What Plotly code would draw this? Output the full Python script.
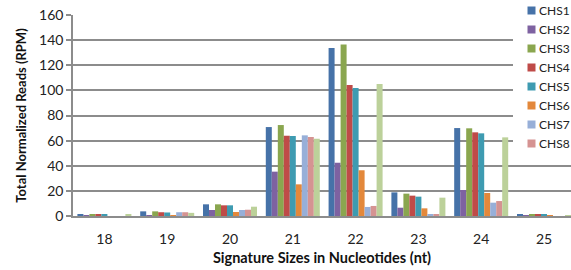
import plotly.graph_objects as go

categories = ["18", "19", "20", "21", "22", "23", "24", "25"]
series_names = ["CHS1", "CHS2", "CHS3", "CHS4", "CHS5", "CHS6", "CHS7", "CHS8", "CHS9"]

chs1 = [1.5, 3.7, 9.3, 70.8, 133.7, 18.8, 70.0, 1.5]
chs2 = [0.3, 0.8, 4.8, 35.3, 42.4, 6.6, 20.7, 0.2]
chs3 = [1.5, 3.7, 9.3, 72.4, 136.6, 17.8, 69.8, 1.5]
chs4 = [1.5, 3.0, 8.5, 63.9, 104.3, 16.2, 66.6, 1.5]
chs5 = [1.5, 2.8, 8.5, 63.7, 101.9, 15.4, 65.8, 1.5]
chs6 = [0.0, 0.8, 3.2, 25.2, 36.4, 6.1, 18.3, 0.2]
chs7 = [0.0, 3.0, 4.8, 64.2, 7.2, 1.6, 10.6, 0.0]
chs8 = [0.0, 3.0, 5.0, 62.9, 8.0, 1.6, 11.9, 0.0]
chs9 = [1.0, 2.5, 7.4, 61.5, 105.0, 14.6, 62.6, 0.8]

values = [chs1, chs2, chs3, chs4, chs5, chs6, chs7, chs8, chs9]
colors = ["#4672A8", "#7E62A1", "#8AA64F", "#BF4B48", "#3E9BB1",
          "#E3883B", "#97AFD8", "#D59392", "#BCD19A"]

y_ticks = [0, 20, 40, 60, 80, 100, 120, 140, 160]
legend_names = series_names[:8]   # the reference legend shows CHS1..CHS8

FONT = "Lato, Calibri, Carlito, sans-serif"
W, H = 571, 270
ML, MT, MB = 73, 15, 54
PW = W - ML
PH = H - MT - MB


def px_to_paper(px, py):
    return (px - ML) / PW, (H - MB - py) / PH


fig = go.Figure()
for name, vals, col in zip(series_names, values, colors):
    fig.add_trace(go.Bar(
        x=categories, y=vals, name=name,
        marker=dict(color=col, line=dict(width=0)),
        showlegend=False,
    ))

shapes = []
annotations = []
# legend background (covers gridlines like the reference legend box)
x0, y0 = px_to_paper(513, 152)
x1, y1 = px_to_paper(W, 0)
shapes.append(dict(type="rect", xref="paper", yref="paper",
                   x0=x0, x1=x1, y0=y0, y1=y1,
                   fillcolor="white", line=dict(width=0), layer="above"))
for i, name in enumerate(legend_names):
    cy = 10.5 + 19 * i
    bx0, by0 = px_to_paper(527.5, cy + 4)
    bx1, by1 = px_to_paper(535.5, cy - 4)
    shapes.append(dict(type="rect", xref="paper", yref="paper",
                       x0=bx0, x1=bx1, y0=by0, y1=by1,
                       fillcolor=colors[i], line=dict(width=0), layer="above"))
    tx, ty = px_to_paper(537, cy)
    annotations.append(dict(text=name, xref="paper", yref="paper",
                            x=tx, y=ty, xanchor="left", yanchor="middle",
                            showarrow=False,
                            font=dict(family=FONT, size=12, color="#222222")))

fig.update_layout(
    width=W, height=H,
    margin=dict(l=ML, r=0, t=MT, b=MB, autoexpand=False),
    paper_bgcolor="white", plot_bgcolor="white",
    barmode="group", bargap=0.14, bargroupgap=0,
    showlegend=False,
    font=dict(family=FONT, size=13, color="#222222"),
    shapes=shapes, annotations=annotations,
    xaxis=dict(
        type="category", range=[-0.5, 7.43], automargin=False,
        showline=True, linecolor="#8C8C8C", linewidth=1.5,
        ticks="", showgrid=False, ticklabelstandoff=9,
        tickfont=dict(family=FONT, size=14, color="#222222"),
        title=dict(text="<b>Signature Sizes in Nucleotides (nt)</b>",
                   font=dict(family=FONT, size=14.5, color="#111111"),
                   standoff=7),
    ),
    yaxis=dict(
        range=[0, 160], tickvals=y_ticks, automargin=False,
        showline=True, linecolor="#8C8C8C", linewidth=1.5,
        ticks="outside", ticklen=5, tickcolor="#8C8C8C", tickwidth=1.5,
        showgrid=True, gridcolor="#8C8C8C", gridwidth=1.5,
        zeroline=False,
        tickfont=dict(family=FONT, size=14, color="#222222"),
        title=dict(text="<b>Total Normalized Reads (RPM)</b>",
                   font=dict(family=FONT, size=13, color="#111111"),
                   standoff=10),
    ),
)

fig.write_html(
    "out.html",
    config={"displayModeBar": False},
    post_script="document.body.style.margin='0';document.body.style.padding='0';",
)
